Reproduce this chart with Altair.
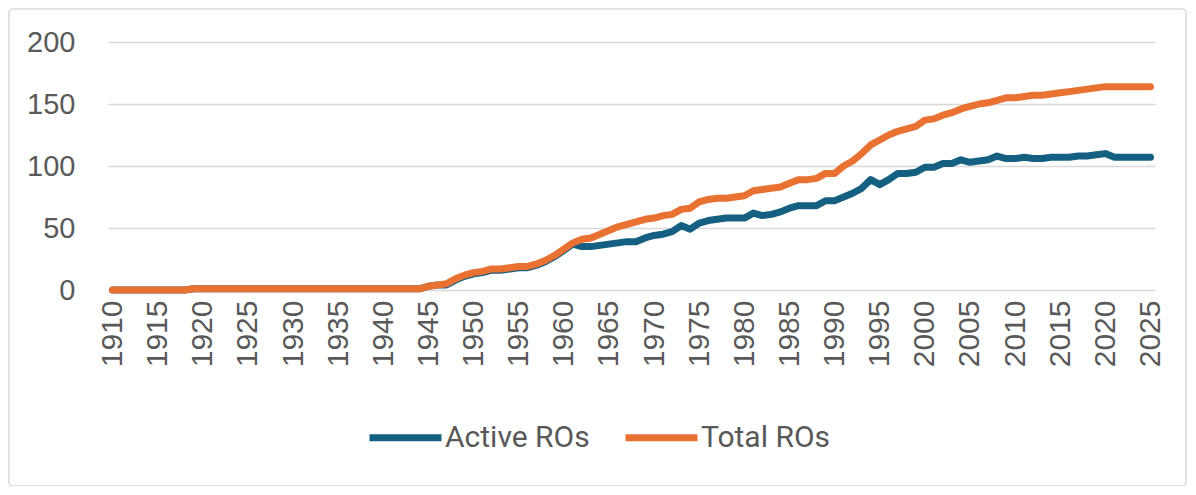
import altair as alt
import pandas as pd

years = list(range(1910, 2026))

total_ros = (
    [0] * 9 + [1] * 25 +
    [1, 3, 4, 5, 9, 12] +
    [14, 15, 17, 17, 18, 19, 19, 21, 24, 28] +
    [33, 38, 41, 42, 45, 48, 51, 53, 55, 57] +
    [58, 60, 61, 65, 66, 71, 73, 74, 74, 75] +
    [76, 80, 81, 82, 83, 86, 89, 89, 90, 94] +
    [94, 100, 104, 110, 117, 121, 125, 128, 130, 132] +
    [137, 138, 141, 143, 146, 148, 150, 151, 153, 155] +
    [155, 156, 157, 157, 158, 159, 160, 161, 162, 163] +
    [164, 164, 164, 164, 164, 164]
)

active_ros = (
    [0] * 9 + [1] * 25 +
    [1, 3, 4, 4, 8, 11] +
    [13, 14, 16, 16, 17, 18, 18, 20, 23, 27] +
    [32, 37, 35, 35, 36, 37, 38, 39, 39, 42] +
    [44, 45, 47, 52, 49, 54, 56, 57, 58, 58] +
    [58, 62, 60, 61, 63, 66, 68, 68, 68, 72] +
    [72, 75, 78, 82, 89, 85, 89, 94, 94, 95] +
    [99, 99, 102, 102, 105, 103, 104, 105, 108, 106] +
    [106, 107, 106, 106, 107, 107, 107, 108, 108, 109] +
    [110, 107, 107, 107, 107, 107]
)

series_names = ["Active ROs", "Total ROs"]
series_colors = ["#156082", "#E97132"]
x_ticks = list(range(1910, 2026, 5))
y_ticks = [0, 50, 100, 150, 200]

df = pd.concat([
    pd.DataFrame({"Year": years, "Value": active_ros, "Series": series_names[0]}),
    pd.DataFrame({"Year": years, "Value": total_ros, "Series": series_names[1]}),
])

TEXT = "#595959"
GRID = "#D9D9D9"

lines = alt.Chart(df).mark_line(
    strokeWidth=7, strokeCap="round", strokeJoin="round"
).encode(
    x=alt.X("Year:Q",
            scale=alt.Scale(domain=[1909.5, 2025.5], nice=False, zero=False),
            axis=alt.Axis(values=x_ticks, labelAngle=270, format="d", title=None,
                          grid=False, domain=False, ticks=False, tickSize=0,
                          labelPadding=10, labelFontSize=30, labelFont="Liberation Sans",
                          labelColor=TEXT, labelOverlap=False)),
    y=alt.Y("Value:Q",
            scale=alt.Scale(domain=[0, 200], nice=False),
            axis=alt.Axis(values=y_ticks, title=None, domain=False, ticks=False, tickSize=0,
                          labelPadding=33, labelFontSize=29, labelFont="Liberation Sans",
                          labelColor=TEXT, gridColor=GRID, gridWidth=1.5)),
    color=alt.Color("Series:N",
                    scale=alt.Scale(domain=series_names, range=series_colors),
                    legend=alt.Legend(title=None, orient="none", legendX=258, legendY=356,
                                      direction="horizontal", symbolType="stroke",
                                      symbolSize=5184, symbolStrokeWidth=7,
                                      labelFontSize=30, labelFont="Roboto", labelColor=TEXT,
                                      columnPadding=21, labelOffset=0, padding=0)),
)

frame = alt.Chart(pd.DataFrame({"a": [0]})).mark_rect(
    fillOpacity=0, stroke=GRID, strokeWidth=1.5, cornerRadius=4
).encode(
    x=alt.value(-99), x2=alt.value(1078), y=alt.value(-33), y2=alt.value(444)
)

chart = alt.layer(frame, lines).properties(
    width=1047, height=248,
    padding={"left": 100, "top": 34, "right": 32, "bottom": 196},
    autosize=alt.AutoSizeParams(type="none"),
).configure_view(stroke=None)

chart.save("out.html", embed_options={"renderer": "svg", "actions": False})
